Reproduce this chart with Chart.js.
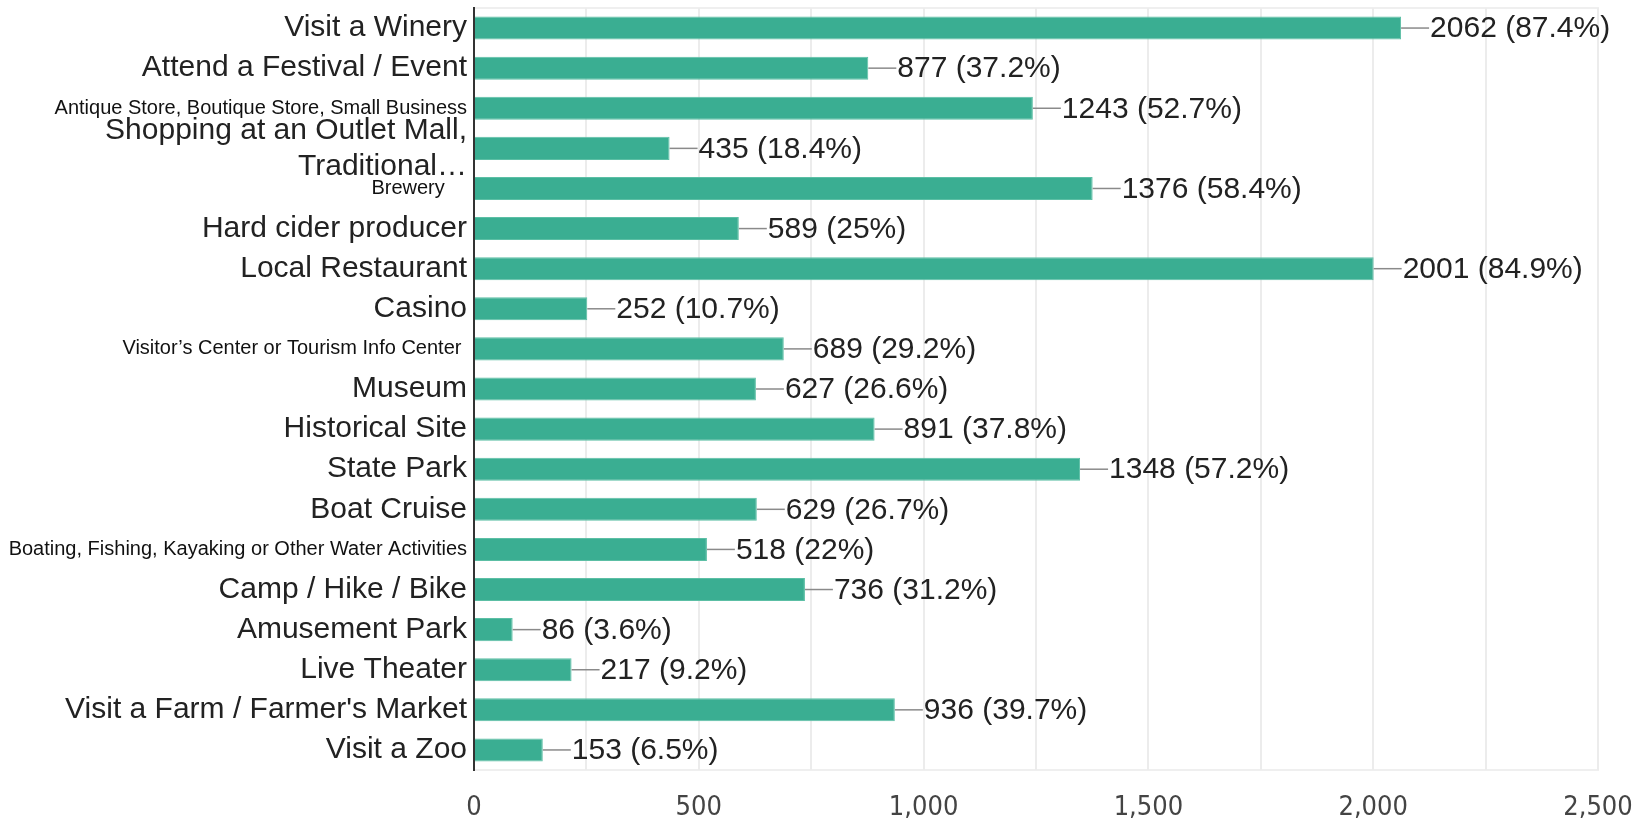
<!DOCTYPE html>
<html>
<head>
<meta charset="utf-8">
<script src="https://cdn.jsdelivr.net/npm/chart.js@4.4.0/dist/chart.umd.min.js"></script>
<style>
  html, body { margin: 0; padding: 0; background: #fff; }
  #wrap { width: 1645px; height: 821px; position: relative; }
</style>
</head>
<body>
<div id="wrap"><canvas id="grafico"></canvas></div>
<script>
// categorias e valores
var categorias = [
    'Visit a Winery',
    'Attend a Festival / Event',
    'Antique Store, Boutique Store, Small Business',
    ['Shopping at an Outlet Mall,', 'Traditional\u2026'],
    'Brewery    ',
    'Hard cider producer',
    'Local Restaurant',
    'Casino',
    'Visitor\u2019s Center or Tourism Info Center ',
    'Museum',
    'Historical Site',
    'State Park',
    'Boat Cruise',
    'Boating, Fishing, Kayaking or Other Water Activities',
    'Camp / Hike / Bike',
    'Amusement Park',
    'Live Theater',
    'Visit a Farm / Farmer\'s Market',
    'Visit a Zoo'
];
var respostas = [2062, 877, 1243, 435, 1376, 589, 2001, 252, 689, 627, 891, 1348, 629, 518, 736, 86, 217, 936, 153];
var percentuais = ['87.4', '37.2', '52.7', '18.4', '58.4', '25', '84.9', '10.7', '29.2', '26.6', '37.8', '57.2', '26.7', '22', '31.2', '3.6', '9.2', '39.7', '6.5'];
var ticksX = [0, 500, 1000, 1500, 2000, 2500];

// rotulos com fonte menor (colados de outro lugar no original)
var pequenos = [2, 4, 8, 13];

var rotulosValor = {
    id: 'rotulosValor',
    beforeDraw: function (chart) {
        var a = chart.chartArea, ctx = chart.ctx;
        ctx.save();
        ctx.strokeStyle = '#efefef';
        ctx.lineWidth = 2;
        ctx.strokeRect(a.left, a.top, a.right - a.left, a.bottom - a.top);
        ctx.restore();
    },
    afterDatasetsDraw: function (chart) {
        var ctx = chart.ctx;
        var meta = chart.getDatasetMeta(0);
        ctx.save();
        ctx.font = '30px "Liberation Sans", Arial, sans-serif';
        ctx.textBaseline = 'middle';
        ctx.textAlign = 'left';
        meta.data.forEach(function (bar, i) {
            var x = bar.x, y = bar.y;
            ctx.strokeStyle = '#8a8a8a';
            ctx.lineWidth = 1.5;
            ctx.beginPath();
            ctx.moveTo(x, y);
            ctx.lineTo(x + 28, y);
            ctx.stroke();
            ctx.fillStyle = '#222';
            ctx.fillText(respostas[i] + ' (' + percentuais[i] + '%)', x + 29, y + 1);
        });
        ctx.restore();
    }
};

var ctx = document.getElementById('grafico').getContext('2d');
var grafico = new Chart(ctx, {
    type: 'bar',
    data: {
        labels: categorias,
        datasets: [
            {
                label: 'Respostas',
                data: respostas,
                backgroundColor: '#3aae92',
                borderColor: '#5cbfa5',
                borderWidth: 1,
                categoryPercentage: 1,
                barPercentage: 0.575
            }
        ]
    },
    options: {
        indexAxis: 'y',
        responsive: true,
        maintainAspectRatio: false,
        animation: false,
        layout: { padding: { top: 8, right: 47, left: 0, bottom: 0 } },
        plugins: {
            legend: { display: false },
            tooltip: { enabled: false }
        },
        scales: {
            x: {
                min: 0,
                max: 2500,
                afterFit: function (s) {
                    s.height = 51;
                    s.paddingLeft = 0;
                    s.paddingRight = 0;
                },
                afterBuildTicks: function (s) {
                    var t = [];
                    for (var v = 0; v <= 2500; v += 250) t.push({ value: v });
                    s.ticks = t;
                },
                ticks: {
                    autoSkip: false,
                    maxRotation: 0,
                    padding: 22,
                    color: '#444',
                    font: { family: '"DejaVu Sans Condensed", "Liberation Sans Narrow", "Liberation Sans", Arial, sans-serif', size: 27 },
                    callback: function (v) {
                        return ticksX.indexOf(v) >= 0 ? v.toLocaleString('en-US') : '';
                    }
                },
                grid: { color: '#ececec', lineWidth: 2, drawTicks: false },
                border: { display: false }
            },
            y: {
                afterFit: function (s) {
                    s.width = 474;
                    s.paddingTop = 0;
                    s.paddingBottom = 0;
                },
                ticks: {
                    autoSkip: false,
                    padding: 7,
                    color: function (c) { return pequenos.indexOf(c.index) >= 0 ? '#111' : '#222'; },
                    font: function (c) {
                        if (pequenos.indexOf(c.index) >= 0) {
                            return { family: '"Liberation Sans", Arial, sans-serif', size: 20, lineHeight: 1.2 };
                        }
                        return { family: '"Liberation Sans", Arial, sans-serif', size: 30, lineHeight: 1.2 };
                    }
                },
                grid: { display: false, drawTicks: false },
                border: { display: true, color: '#333', width: 2 }
            }
        }
    },
    plugins: [rotulosValor]
});
</script>
</body>
</html>
